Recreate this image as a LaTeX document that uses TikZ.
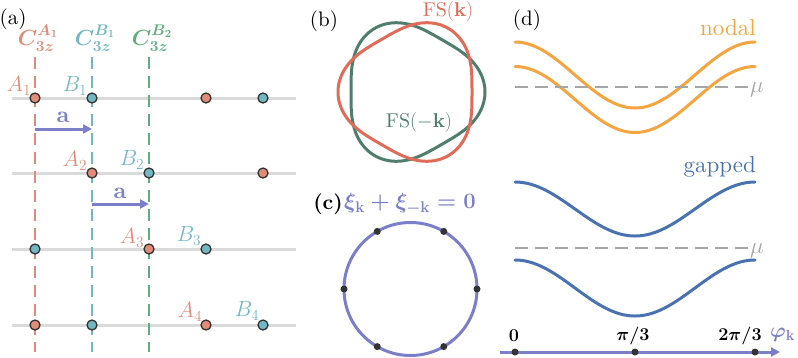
\RequirePackage{fix-cm}
\documentclass[tikz,border=0pt]{standalone}
\usepackage{fontspec}
\setmainfont{lmroman10}[Extension=.otf, UprightFont=*-regular, BoldFont=*-bold, ItalicFont=*-italic, BoldItalicFont=*-bolditalic]
\usepackage{amsmath}
\usetikzlibrary{arrows.meta}
\definecolor{cred}{HTML}{E08C78}
\definecolor{cteal}{HTML}{72B8C4}
\definecolor{cgreen}{HTML}{5FAE80}
\definecolor{cglat}{HTML}{DADADA}
\definecolor{cdark}{HTML}{333333}
\definecolor{fsred}{HTML}{E06B58}
\definecolor{fsgreen}{HTML}{507E6C}
\definecolor{cpur}{HTML}{7B7FC9}
\definecolor{corange}{HTML}{F2A541}
\definecolor{cblue}{HTML}{4A72B0}
\definecolor{cmu}{HTML}{A6A6A6}
\newcommand{\bmath}[1]{{\boldmath$#1$}}
\tikzset{
  glat/.style={line width=3pt, draw=cglat},
  vdash/.style={line width=2.6pt, dash pattern=on 12pt off 7pt},
  site/.style={circle, draw=cdark, line width=1.3pt, inner sep=0pt, minimum size=10pt},
  vecar/.style={line width=3pt, draw=cpur, -{Triangle[length=9pt,width=9pt]}},
  lbl/.style={font=\fontsize{21}{25}\selectfont, inner sep=0pt},
  sml/.style={font=\fontsize{20}{24}\selectfont, inner sep=0pt},
  lat/.style={font=\fontsize{22}{26}\selectfont, inner sep=0pt},
  wrd/.style={font=\fontsize{23}{27}\selectfont, inner sep=0pt},
  band/.style={line width=3pt, line cap=round},
  mudash/.style={line width=2.6pt, draw=cmu, dash pattern=on 13pt off 7pt},
  bdot/.style={circle, fill=cdark, inner sep=0pt, minimum size=7pt},
}
\begin{document}
\begin{tikzpicture}[x=1pt,y=-1pt]
\useasboundingbox (0,0) rectangle (798,357);
% ---------------- (a)
\node[lbl] (la) at (13,19) {(a)};
\foreach \y/\n in {98/1,173/2,249/3,325/4}{
  \coordinate (hl\n) at (12,\y);
  \coordinate (hr\n) at (296,\y);
  \draw[glat] (hl\n) -- (hr\n);
}
\coordinate (vt1) at (35,57);  \coordinate (vb1) at (35,352);
\coordinate (vt2) at (92,57);  \coordinate (vb2) at (92,352);
\coordinate (vt3) at (149,57); \coordinate (vb3) at (149,352);
\draw[vdash, draw=cred] (vt1) -- (vb1);
\draw[vdash, draw=cteal] (vt2) -- (vb2);
\draw[vdash, draw=cgreen] (vt3) -- (vb3);
\node[lat, text=cred] (c1) at (38,38) {\bmath{C_{3z}^{A_1}}};
\node[lat, text=cteal] (c2) at (95,38) {\bmath{C_{3z}^{B_1}}};
\node[lat, text=cgreen] (c3) at (152,38) {\bmath{C_{3z}^{B_2}}};
% sites
\node[site, fill=cred]  (s11) at (35,98) {};
\node[site, fill=cteal] (s12) at (92,98) {};
\node[site, fill=cred]  (s13) at (206,98) {};
\node[site, fill=cteal] (s14) at (263,98) {};
\node[site, fill=cred]  (s21) at (92,173) {};
\node[site, fill=cteal] (s22) at (149,173) {};
\node[site, fill=cred]  (s23) at (263,173) {};
\node[site, fill=cteal] (s31) at (35,249) {};
\node[site, fill=cred]  (s32) at (149,249) {};
\node[site, fill=cteal] (s33) at (206,249) {};
\node[site, fill=cred]  (s41) at (35,325) {};
\node[site, fill=cteal] (s42) at (92,325) {};
\node[site, fill=cred]  (s43) at (206,325) {};
\node[site, fill=cteal] (s44) at (263,325) {};
\node[lat, text=cred]  (A1) at (19,86)  {$A_1$};
\node[lat, text=cteal] (B1) at (75,86)  {$B_1$};
\node[lat, text=cred]  (A2) at (75,161) {$A_2$};
\node[lat, text=cteal] (B2) at (132,160) {$B_2$};
\node[lat, text=cred]  (A3) at (132,238) {$A_3$};
\node[lat, text=cteal] (B3) at (189,236) {$B_3$};
\node[lat, text=cred]  (A4) at (190,312) {$A_4$};
\node[lat, text=cteal] (B4) at (247,311) {$B_4$};
\coordinate (a1s) at (35,129); \coordinate (a1e) at (92,129);
\coordinate (a2s) at (92,204); \coordinate (a2e) at (149,204);
\draw[vecar] (a1s) -- (a1e);
\draw[vecar] (a2s) -- (a2e);
\node[wrd, text=cpur] (va1) at (63,117) {$\mathbf{a}$};
\node[wrd, text=cpur] (va2) at (120,193) {$\mathbf{a}$};
% ---------------- (b)
\node[lbl] (lb) at (324,21) {(b)};
\draw[fsgreen, line width=3pt] plot[domain=0:360, samples=241]
  ({411.5+67*(1+0.097*cos(3*\x))*cos(\x)}, {92-67*(1+0.097*cos(3*\x))*sin(\x)}) -- cycle;
\draw[fsred, line width=3pt] plot[domain=0:360, samples=241]
  ({411.5+67*(1-0.097*cos(3*\x))*cos(\x)}, {92-67*(1-0.097*cos(3*\x))*sin(\x)}) -- cycle;
\node[sml, text=fsred] (fsk) at (448,11) {FS$(\mathbf{k})$};
\node[sml, text=fsgreen] (fsmk) at (419,122) {FS$(-\mathbf{k})$};
% ---------------- (c)
\node[lbl, font=\fontsize{21}{25}\selectfont\bfseries] (lc) at (328,204) {(c)};
\node[lat, text=cpur, anchor=west] (eq) at (344,204) {\bmath{\xi_{\mathbf{k}}+\xi_{-\mathbf{k}}=0}};
\node[circle, draw=cpur, line width=3pt, minimum size=133pt, outer sep=0pt, inner sep=0pt] (ring) at (410.5,289) {};
\foreach \a in {0,60,120,180,240,300}{
  \node[bdot] at (ring.\a) {};
}
% ---------------- (d)
\node[lbl] (ld) at (527,20) {(d)};
\draw[band, corange] plot[domain=515:755, samples=121] (\x, {75-33*cos(1.5*(\x-515))});
\draw[band, corange] plot[domain=515:755, samples=121] (\x, {99.5-33*cos(1.5*(\x-515))});
\coordinate (m1l) at (515,87); \coordinate (m1r) at (750,87);
\draw[mudash] (m1l) -- (m1r);
\node[wrd, text=cmu, anchor=west] (mu1) at (750,90) {$\mu$};
\node[wrd, text=corange, anchor=base east] (nodal) at (756,35) {nodal};
\draw[band, cblue] plot[domain=515:755, samples=121] (\x, {209-27*cos(1.5*(\x-515))});
\draw[band, cblue] plot[domain=515:755, samples=121] (\x, {288-28*cos(1.5*(\x-515))});
\coordinate (m2l) at (515,248); \coordinate (m2r) at (750,248);
\draw[mudash] (m2l) -- (m2r);
\node[wrd, text=cmu, anchor=west] (mu2) at (750,251) {$\mu$};
\node[wrd, text=cblue, anchor=base east] (gapped) at (756,172) {gapped};
% axis
\coordinate (ax0) at (500,352); \coordinate (ax1) at (780,352);
\draw[vecar] (ax0) -- (ax1);
\node[bdot] (t0) at (515,352) {};
\node[bdot] (t1) at (635,352) {};
\node[bdot] (t2) at (755,352) {};
\node[sml, font=\fontsize{18}{22}\selectfont] (l0) at (514,336) {\bmath{0}};
\node[sml, font=\fontsize{18}{22}\selectfont] (l1) at (633,336) {\bmath{\pi/3}};
\node[sml, font=\fontsize{18}{22}\selectfont] (l2) at (740,336) {\bmath{2\pi/3}};
\node[lbl, text=cpur, anchor=west] (phi) at (770,335) {\bmath{\varphi_{\mathbf{k}}}};
\end{tikzpicture}
\end{document}
